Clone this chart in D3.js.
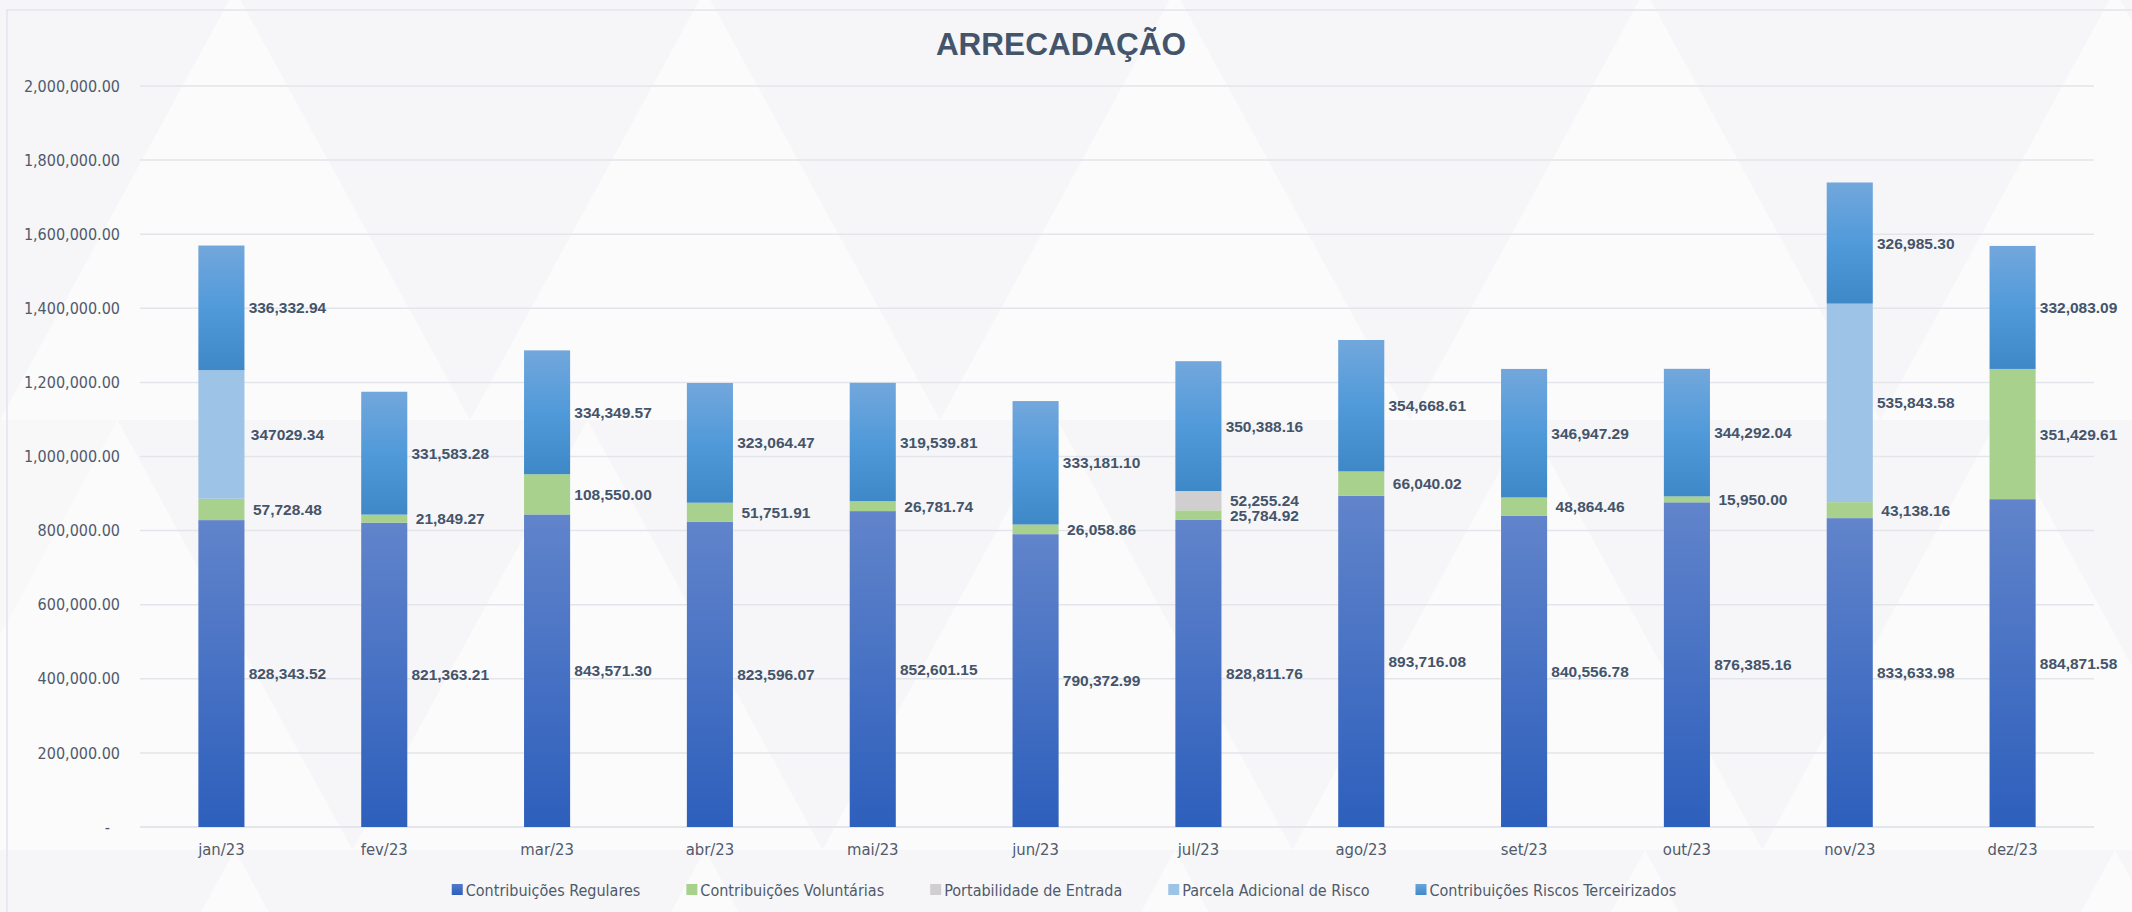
<!DOCTYPE html>
<html>
<head>
<meta charset="utf-8">
<script src="https://cdn.jsdelivr.net/npm/d3@7"></script>
<style>
  html, body { margin: 0; padding: 0; background: #f8f8f9; }
  svg { display: block; }
</style>
</head>
<body>
<svg id="chart" width="2132" height="912"></svg>
<script>
// ---- data ----
const months = ['jan/23', 'fev/23', 'mar/23', 'abr/23', 'mai/23', 'jun/23',
  'jul/23', 'ago/23', 'set/23', 'out/23', 'nov/23', 'dez/23'];

const regulares = [828343.52, 821363.21, 843571.30, 823596.07, 852601.15, 790372.99,
  828811.76, 893716.08, 840556.78, 876385.16, 833633.98, 884871.58];
const voluntarias = [57728.48, 21849.27, 108550.00, 51751.91, 26781.74, 26058.86,
  25784.92, 66040.02, 48864.46, 15950.00, 43138.16, 351429.61];
const portabilidade = [0, 0, 0, 0, 0, 0, 52255.24, 0, 0, 0, 0, 0];
const parcelaAdicional = [347029.34, 0, 0, 0, 0, 0, 0, 0, 0, 0, 535843.58, 0];
const riscosTerceirizados = [336332.94, 331583.28, 334349.57, 323064.47, 319539.81, 333181.10,
  350388.16, 354668.61, 346947.29, 344292.04, 326985.30, 332083.09];

const seriesNames = ['Contribuições Regulares', 'Contribuições Voluntárias',
  'Portabilidade de Entrada', 'Parcela Adicional de Risco', 'Contribuições Riscos Terceirizados'];
const seriesKeys = ['reg', 'vol', 'port', 'parc', 'terc'];

const yTicks = [0, 200000, 400000, 600000, 800000, 1000000, 1200000, 1400000, 1600000, 1800000, 2000000];

// jan parcela label shows without thousands separator in the original
const labelOverrides = { 'parc-0': '347029.34' };

const table = months.map((m, i) => ({
  month: m,
  reg: regulares[i],
  vol: voluntarias[i],
  port: portabilidade[i],
  parc: parcelaAdicional[i],
  terc: riscosTerceirizados[i]
}));

// ---- setup ----
const svg = d3.select('#chart');
const W = 2132, H = 912;

const fills = {
  reg: 'url(#gradReg)',
  vol: '#a9d18e',
  port: '#d0cece',
  parc: '#9dc3e6',
  terc: 'url(#gradTerc)'
};

const defs = svg.append('defs');
function gradient(id, stops) {
  const g = defs.append('linearGradient').attr('id', id)
    .attr('x1', 0).attr('y1', 0).attr('x2', 0).attr('y2', 1);
  stops.forEach(s => g.append('stop').attr('offset', s[0]).attr('stop-color', s[1]));
}
gradient('gradReg', [['0%', '#6184cb'], ['100%', '#2d5fbc']]);
gradient('gradTerc', [['0%', '#72a7dc'], ['50%', '#519ada'], ['100%', '#3f88c7']]);
gradient('gradLegReg', [['0%', '#5479c8'], ['100%', '#2d5fbc']]);
gradient('gradLegTerc', [['0%', '#6aa4dc'], ['100%', '#4189c8']]);

const legendFills = {
  reg: 'url(#gradLegReg)',
  vol: '#a9d18e',
  port: '#d0cece',
  parc: '#9dc3e6',
  terc: 'url(#gradLegTerc)'
};

// background with a faint triangle pattern
svg.append('rect').attr('width', W).attr('height', H).attr('fill', '#f8f8f9');
const bg = svg.append('g');
const tw = 470, th = 430;
for (let r = 0; r < 3; r++) {
  for (let c = -1; c < 11; c++) {
    const x0 = c * tw / 2 + (r % 2 ? tw / 4 : 0);
    const up = (c + r) % 2 === 0;
    const y0 = r * th - 10;
    const pts = up
      ? [[x0, y0 + th], [x0 + tw / 2, y0], [x0 + tw, y0 + th]]
      : [[x0, y0], [x0 + tw, y0], [x0 + tw / 2, y0 + th]];
    bg.append('polygon')
      .attr('points', pts.map(p => p.join(',')).join(' '))
      .attr('fill', up ? '#fdfdfd' : '#f5f5f6')
      .attr('opacity', 0.6);
  }
}

// chart frame
svg.append('rect')
  .attr('x', 7).attr('y', 10).attr('width', 2140).attr('height', 920)
  .attr('fill', 'none').attr('stroke', '#e1e5eb').attr('stroke-width', 1.5);

// ---- scales ----
const x = d3.scaleBand()
  .domain(months)
  .range([140, 2094])
  .paddingInner(0.717)
  .paddingOuter(0.3585);

const y = d3.scaleLinear()
  .domain([0, 2000000])
  .range([827, 86]);

// gridlines
svg.append('g')
  .selectAll('line')
  .data(yTicks)
  .join('line')
  .attr('x1', 140).attr('x2', 2094)
  .attr('y1', d => y(d)).attr('y2', d => y(d))
  .attr('stroke', '#e2e5ea')
  .attr('stroke-width', 1.5);

// y axis
const yAxis = svg.append('g')
  .attr('transform', 'translate(120,0)')
  .call(d3.axisLeft(y).tickValues(yTicks).tickSize(0).tickPadding(0)
    .tickFormat(d => d === 0 ? '-' : d3.format(',.2f')(d)));
yAxis.select('.domain').remove();
yAxis.selectAll('text')
  .attr('fill', '#4f5a6b')
  .style('font-family', '"DejaVu Sans Condensed", "DejaVu Sans", sans-serif')
  .style('font-size', '16px')
  .attr('dx', d => d === 0 ? -10 : 0);

// x axis
const xAxis = svg.append('g')
  .attr('transform', `translate(0,${y(0)})`)
  .call(d3.axisBottom(x).tickSize(0).tickPadding(16));
xAxis.select('.domain').attr('stroke', '#e2e5ea').attr('stroke-width', 1.5)
  .attr('d', 'M140,0H2094');
xAxis.selectAll('text')
  .attr('fill', '#4f5a6b')
  .style('font-family', '"DejaVu Sans Condensed", "DejaVu Sans", sans-serif')
  .style('font-size', '16.5px');

// ---- stacked bars ----
const stacked = d3.stack().keys(seriesKeys)(table);

const layers = svg.append('g')
  .selectAll('g')
  .data(stacked)
  .join('g')
  .attr('fill', d => fills[d.key]);

layers.selectAll('rect')
  .data(d => d.filter(s => s[1] - s[0] > 0))
  .join('rect')
  .attr('x', d => x(d.data.month))
  .attr('width', x.bandwidth())
  .attr('y', d => y(d[1]))
  .attr('height', d => y(d[0]) - y(d[1]));

// value labels
const fmt = d3.format(',.2f');
const labelData = [];
stacked.forEach(layer => {
  layer.forEach((s, i) => {
    const v = s[1] - s[0];
    if (v <= 0) return;
    labelData.push({
      month: s.data.month,
      mid: (s[0] + s[1]) / 2,
      text: labelOverrides[layer.key + '-' + i] || fmt(v)
    });
  });
});

svg.append('g')
  .selectAll('text')
  .data(labelData)
  .join('text')
  .attr('x', d => x(d.month) + x.bandwidth() / 2 + 66)
  .attr('y', d => y(d.mid))
  .attr('dy', '0.36em')
  .attr('text-anchor', 'middle')
  .attr('fill', '#44546a')
  .style('font-family', '"Liberation Sans", Arial, sans-serif')
  .style('font-weight', 'bold')
  .style('font-size', '15.5px')
  .text(d => d.text);

// ---- title ----
svg.append('text')
  .attr('x', 1061)
  .attr('y', 55)
  .attr('text-anchor', 'middle')
  .attr('fill', '#44546a')
  .style('font-family', '"Liberation Sans", Arial, sans-serif')
  .style('font-weight', 'bold')
  .style('font-size', '31.5px')
  .text('ARRECADAÇÃO');

// ---- legend ----
const items = svg.append('g').selectAll('g')
  .data(seriesKeys)
  .join('g');
items.append('rect')
  .attr('width', 11).attr('height', 11)
  .attr('y', -6)
  .attr('fill', d => legendFills[d]);
items.append('text')
  .attr('x', 14)
  .attr('dy', '0.35em')
  .attr('fill', '#4f5a6b')
  .style('font-family', '"DejaVu Sans Condensed", "DejaVu Sans", sans-serif')
  .style('font-size', '16px')
  .text((d, i) => seriesNames[i]);

const gap = 46;
const widths = [];
items.each(function () {
  widths.push(14 + d3.select(this).select('text').node().getComputedTextLength());
});
const total = d3.sum(widths) + gap * (widths.length - 1);
let cx = 1064 - total / 2;
items.attr('transform', (d, i) => {
  const t = `translate(${cx},890)`;
  cx += widths[i] + gap;
  return t;
});
</script>
</body>
</html>
